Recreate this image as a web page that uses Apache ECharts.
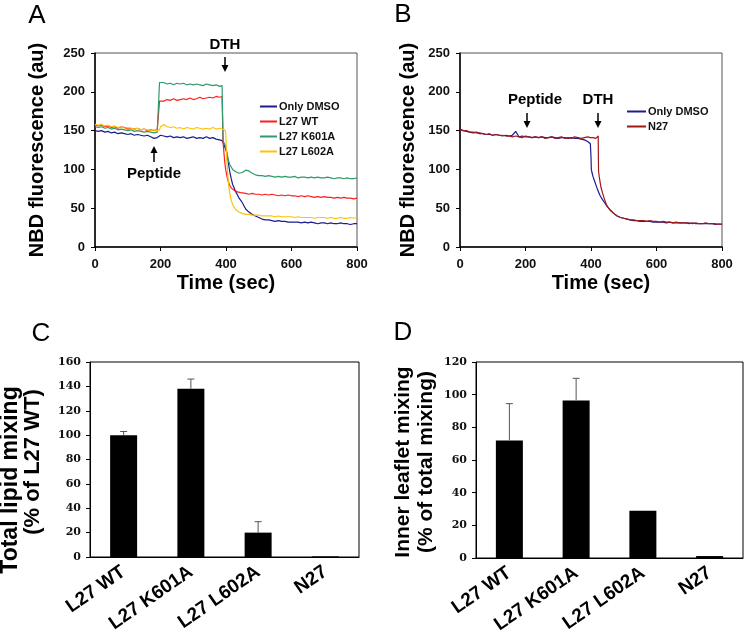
<!DOCTYPE html>
<html><head><meta charset="utf-8">
<script src="https://cdn.jsdelivr.net/npm/echarts@6.0.0/dist/echarts.min.js"></script>
<style>html,body{margin:0;padding:0;background:#fff}#c{width:745px;height:635px}</style>
</head><body><div id="c"></div>
<script>
// ---------- Panel A (time traces) ----------
const tA = [0,10,20,30,40,50,60,70,80,90,100,110,120,130,140,150,160,170,180,190,
  196,197,
  200,210,220,230,240,250,260,270,280,290,300,310,320,330,340,350,360,370,380,
  388,391,393,396,399,402,405,408,412,416,420,425,430,435,440,445,450,
  460,470,480,490,500,510,520,530,540,550,560,570,580,590,600,610,620,630,640,650,660,670,680,690,700,710,720,730,740,750,760,770,780,790,800];
const dmsoA = [150,149,150,148,149,147,148,146,147,146,145,146,144,145,144,143,144,142,140,141,
  143,143,
  144,143,142,143,141,142,141,142,140,141,142,140,141,140,142,140,141,139,138,
  137,135,133,132,131,122,114,106,96,88,81,76,71,67,63,60,57,
  49,45,42,40,38,36,35,35,34,33,34,33,33,32,32,32,32,31,32,31,32,31,30,31,31,30,31,30,30,31,30,30,29,30,30];
const wtA = [157,156,157,155,156,154,155,153,155,154,152,153,152,153,151,152,150,151,150,151,
  150,188,
  189,188,190,189,191,189,190,191,190,192,190,191,193,191,192,193,192,194,193,
  194,135,125,110,100,93,87,83,79,76,74,73,72,71,70,70,69,
  69,68,69,68,68,67,68,67,68,67,66,67,66,67,66,66,65,66,65,66,65,64,65,64,65,64,64,63,64,63,64,63,63,62,63];
const k601aA = [155,154,155,153,154,152,153,151,152,151,150,151,149,150,149,148,149,148,147,148,
  148,212,
  211,212,210,211,209,211,210,211,209,210,209,210,209,208,210,209,208,209,207,
  208,138,135,133,130,124,117,111,106,103,100,99,97,96,95,95,96,
  99,98,95,93,92,92,91,92,91,90,91,90,91,90,90,91,89,90,90,89,90,89,90,89,89,90,89,88,89,89,88,89,88,88,89];
const l602aA = [158,157,158,156,157,155,156,154,155,153,154,153,152,153,151,152,151,150,151,150,
  150,151,
  155,158,155,154,155,153,154,152,154,153,152,154,153,152,153,152,154,152,153,
  152,153,152,151,148,118,95,80,68,60,55,51,48,46,45,44,43,
  42,42,41,41,41,40,40,40,40,39,40,39,39,39,39,38,39,38,38,38,38,37,38,38,38,37,38,37,37,38,37,37,38,37,38];

// ---------- Panel B (time traces) ----------
const tB = [0,10,20,30,40,50,60,70,80,90,100,110,120,130,140,150,160,170,180,190,
  200,210,220,230,240,250,260,270,280,290,300,310,320,330,340,350,360,370,380,
  390,395,398,400,401,403,406,410,415,420,422,423,425,428,431,435,440,445,450,
  460,470,480,490,500,510,520,530,540,550,560,570,580,590,600,610,620,630,640,650,660,670,680,690,700,710,720,730,740,750,760,770,780,790,800];
const dmsoB = [152,150,149,148,147,148,146,146,145,145,144,145,144,143,144,143,144,149,142,143,
  142,142,141,142,141,142,141,141,142,141,140,141,141,140,141,140,140,139,138,
  136,134,133,116,100,96,91,86,80,74,72,71,69,66,64,61,58,55,52,
  47,43,40,38,37,36,35,34,34,33,33,33,33,32,32,32,32,31,32,31,31,31,31,31,30,31,30,30,30,30,30,30,29,30,29];
const n27B = [151,150,150,148,148,147,147,146,145,146,144,145,144,144,143,143,142,143,142,141,
  143,142,141,142,141,142,140,141,142,140,141,142,140,141,140,142,141,140,141,
  142,140,141,142,141,140,141,142,140,142,143,98,91,83,76,70,63,57,52,
  47,43,40,38,37,36,35,35,34,34,34,33,34,33,33,32,33,32,32,31,32,31,31,31,31,30,31,30,30,31,30,30,30,29,30];

const xTicksTime = [0, 800, 200];   // min, max, interval
const yTicksNBD = [0, 250, 50];

// ---------- Panels C & D (bars) ----------
const categories = ['L27 WT', 'L27 K601A', 'L27 L602A', 'N27'];
const totalMixing = [100, 138, 20, 0.5];
const totalMixingErr = [3, 8, 9, 0];
const innerMixing = [72, 96.5, 29, 1.2];
const innerMixingErr = [22.5, 13.5, 0, 0];
const yTicksC = [0, 160, 20];
const yTicksD = [0, 120, 20];

const SANS = 'Arial, "Liberation Sans", sans-serif';
const SERIF = '"DejaVu Serif", serif';

const chart = echarts.init(document.getElementById('c'), null, {renderer: 'canvas'});

function pairs(t, v) { return t.map((x, i) => [x, v[i]]); }

function lineSeries(name, t, v, color, xi) {
  return {type: 'line', name, xAxisIndex: xi, yAxisIndex: xi, data: pairs(t, v),
    showSymbol: false, symbol: 'none', smooth: false, animation: false,
    lineStyle: {color, width: 1.2}, itemStyle: {color}};
}

function errSeries(idx, vals, errs) {
  return {type: 'custom', xAxisIndex: idx, yAxisIndex: idx, z: 5, animation: false,
    data: vals.map((v, i) => [i, v, v + errs[i], errs[i]]),
    renderItem(params, api) {
      if (api.value(3) <= 0) return null;
      const lo = api.coord([api.value(0), api.value(1)]);
      const hi = api.coord([api.value(0), api.value(2)]);
      return {type: 'group', children: [
        {type: 'line', shape: {x1: lo[0], y1: lo[1], x2: hi[0], y2: hi[1]}, style: {stroke: '#555', lineWidth: 1}},
        {type: 'line', shape: {x1: hi[0] - 3.5, y1: hi[1], x2: hi[0] + 3.5, y2: hi[1]}, style: {stroke: '#555', lineWidth: 1}}
      ]};
    }};
}

function timeXAxis(gi) {
  return {type: 'value', gridIndex: gi, min: xTicksTime[0], max: xTicksTime[1], interval: xTicksTime[2],
    axisLine: {show: true, onZero: false, lineStyle: {color: '#000', width: 1.5}},
    axisTick: {show: true, inside: false, length: 4, lineStyle: {color: '#000'}},
    axisLabel: {fontFamily: SANS, fontWeight: 'bold', fontSize: 13, color: '#111', margin: 11},
    splitLine: {show: false}};
}
function nbdYAxis(gi) {
  return {type: 'value', gridIndex: gi, min: yTicksNBD[0], max: yTicksNBD[1], interval: yTicksNBD[2],
    axisLine: {show: true, lineStyle: {color: '#000', width: 1.5}},
    axisTick: {show: true, inside: false, length: 4, lineStyle: {color: '#000'}},
    axisLabel: {fontFamily: SANS, fontWeight: 'bold', fontSize: 13, color: '#111', margin: 10},
    splitLine: {show: false}};
}
function catXAxis(gi) {
  return {type: 'category', gridIndex: gi, data: categories,
    axisLine: {show: true, lineStyle: {color: '#000', width: 1}},
    axisTick: {show: false},
    axisLabel: {fontFamily: SANS, fontWeight: 'bold', fontSize: 19, color: '#000', rotate: 35, margin: 13, interval: 0},
    splitLine: {show: false}};
}
function barYAxis(gi, tk) {
  return {type: 'value', gridIndex: gi, min: tk[0], max: tk[1], interval: tk[2],
    axisLine: {show: true, lineStyle: {color: '#000', width: 1}},
    axisTick: {show: true, inside: false, length: 4, lineStyle: {color: '#000'}},
    axisLabel: {fontFamily: SERIF, fontWeight: 'bold', fontSize: 11, color: '#111', margin: 9},
    splitLine: {show: false}};
}

function arrow(x, y1, y2) {
  const d = y2 > y1 ? 1 : -1;
  return [
    {type: 'line', shape: {x1: x, y1: y1, x2: x, y2: y2 - d * 5}, style: {stroke: '#000', lineWidth: 1.5}},
    {type: 'polygon', shape: {points: [[x - 3.5, y2 - d * 7], [x + 3.5, y2 - d * 7], [x, y2]]}, style: {fill: '#000'}}
  ];
}
function txt(s, x, y, size, weight, rot) {
  return {type: 'text', x, y, rotation: rot || 0,
    style: {text: s, fontFamily: SANS, fontSize: size, fontWeight: weight, fill: '#000', align: 'center', verticalAlign: 'middle'}};
}

const legendText = {fontFamily: SANS, fontWeight: 'bold', fontSize: 11, color: '#111', lineHeight: 13, padding: [0, 0, 0, -3]};

const option = {
  backgroundColor: '#fff',
  animation: false,
  grid: [
    {left: 95, top: 53, width: 262, height: 194, show: true, borderColor: '#555', borderWidth: 1, outerBoundsMode: 'none', containLabel: false},
    {left: 460, top: 53, width: 262, height: 194, show: true, borderColor: '#555', borderWidth: 1, outerBoundsMode: 'none', containLabel: false},
    {left: 90, top: 362, width: 269, height: 195, show: true, borderColor: '#000', borderWidth: 1, outerBoundsMode: 'none', containLabel: false},
    {left: 476, top: 362, width: 267, height: 196, show: true, borderColor: '#000', borderWidth: 1, outerBoundsMode: 'none', containLabel: false}
  ],
  xAxis: [timeXAxis(0), timeXAxis(1), catXAxis(2), catXAxis(3)],
  yAxis: [nbdYAxis(0), nbdYAxis(1), barYAxis(2, yTicksC), barYAxis(3, yTicksD)],
  legend: [
    {data: ['Only DMSO', 'L27 WT', 'L27 K601A', 'L27 L602A'], orient: 'vertical', left: 260, top: 100,
      icon: 'rect', itemWidth: 17, itemHeight: 2, itemGap: 2, selectedMode: false, textStyle: legendText, padding: 0},
    {data: ['Only DMSO', 'N27'], orient: 'vertical', left: 627, top: 105,
      icon: 'rect', itemWidth: 19, itemHeight: 2, itemGap: 2, selectedMode: false, textStyle: legendText, padding: 0}
  ],
  series: [
    lineSeries('Only DMSO', tA, dmsoA, '#1c1c90', 0),
    lineSeries('L27 WT', tA, wtA, '#ff1e1e', 0),
    lineSeries('L27 K601A', tA, k601aA, '#2f9a6a', 0),
    lineSeries('L27 L602A', tA, l602aA, '#ffc20a', 0),
    lineSeries('Only DMSO', tB, dmsoB, '#1c1c90', 1),
    lineSeries('N27', tB, n27B, '#a01818', 1),
    {type: 'bar', name: 'Total lipid mixing', xAxisIndex: 2, yAxisIndex: 2, data: totalMixing, barWidth: 27,
      itemStyle: {color: '#000'}, animation: false},
    errSeries(2, totalMixing, totalMixingErr),
    {type: 'bar', name: 'Inner leaflet mixing', xAxisIndex: 3, yAxisIndex: 3, data: innerMixing, barWidth: 27,
      itemStyle: {color: '#000'}, animation: false},
    errSeries(3, innerMixing, innerMixingErr)
  ],
  graphic: [
    txt('A', 37, 16, 26, 'normal'),
    txt('B', 403, 15, 26, 'normal'),
    txt('C', 41, 334, 26, 'normal'),
    txt('D', 403, 333, 26, 'normal'),
    txt('NBD fluorescence (au)', 37, 150, 20, 'bold', Math.PI / 2),
    txt('NBD fluorescence (au)', 408, 150, 20, 'bold', Math.PI / 2),
    txt('Time (sec)', 226, 283, 20, 'bold'),
    txt('Time (sec)', 601, 283, 20, 'bold'),
    txt('Total lipid mixing', 11, 480, 23, 'bold', Math.PI / 2),
    txt('(% of L27 WT)', 33, 462, 22, 'bold', Math.PI / 2),
    txt('Inner leaflet mixing', 403, 462, 21, 'bold', Math.PI / 2),
    txt('(% of total mixing)', 426, 462, 21, 'bold', Math.PI / 2),
    txt('DTH', 225, 45, 15, 'bold'),
    txt('Peptide', 154, 174, 15, 'bold'),
    txt('Peptide', 535, 100, 15, 'bold'),
    txt('DTH', 598, 100, 15, 'bold'),
    ...arrow(225, 57, 72),
    ...arrow(154, 162, 146),
    ...arrow(527, 113, 128),
    ...arrow(598, 113, 128)
  ]
};
chart.setOption(option);
</script>
</body></html>
